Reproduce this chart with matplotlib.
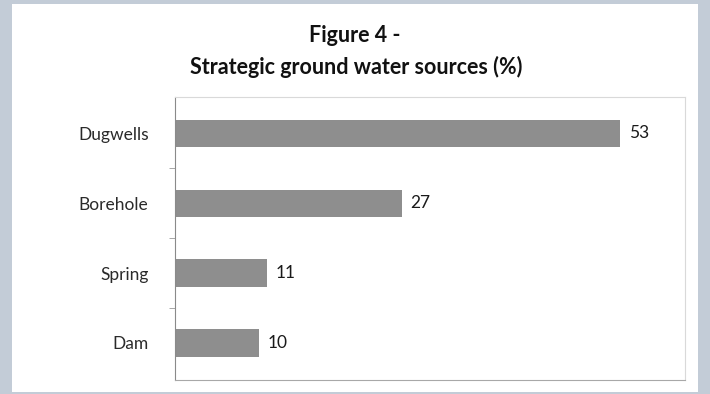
import matplotlib.pyplot as plt
from matplotlib.patches import Rectangle

sources = ['Dugwells', 'Borehole', 'Spring', 'Dam']
shares = [53, 27, 11, 10]

plt.rcParams['font.family'] = ['Lato', 'DejaVu Sans']

fig = plt.figure(figsize=(7.1, 3.94), dpi=100)
fig.patch.set_facecolor('#c3ccd7')
# white chart panel
fig.patches.append(Rectangle((12 / 710, 2 / 394), 686 / 710, 388 / 394,
                             transform=fig.transFigure, facecolor='white',
                             edgecolor='none', zorder=0))

ax = fig.add_axes([175 / 710, 1 - 380 / 394, 510 / 710, 283 / 394])
ax.set_facecolor('white')
ax.set_zorder(1)

pos = list(range(len(sources)))[::-1]
ax.barh(pos, shares, height=0.39, color='#8e8e8e')
for p, v in zip(pos, shares):
    ax.text(v + 1.0, p, str(v), va='center', ha='left', fontsize=12.5, color='#1a1a1a')

ax.set_xlim(0, 60.7)
ax.set_ylim(-0.53, 3.52)
ax.set_yticks(pos)
ax.set_yticklabels(sources, fontsize=12.5, color='#2a2a2a')
ax.set_yticks([0.5, 1.5, 2.5], minor=True)
ax.tick_params(axis='y', which='major', length=0, pad=19)
ax.tick_params(axis='y', which='minor', length=4, color='#999999', direction='out')
ax.set_xticks([])

for s in ['top', 'right']:
    ax.spines[s].set_color('#d9d9d9')
ax.spines['left'].set_color('#8a8a8a')
ax.spines['bottom'].set_color('#a8a8a8')

fig.text(355 / 710, 1 - 35 / 394, 'Figure 4 -', ha='center', va='center',
         fontsize=15.5, fontweight='bold', color='#111111')
fig.text(356 / 710, 1 - 67 / 394, 'Strategic ground water sources (%)', ha='center',
         va='center', fontsize=15.5, fontweight='bold', color='#111111')

fig.savefig('out.png', dpi=100, facecolor=fig.get_facecolor())
